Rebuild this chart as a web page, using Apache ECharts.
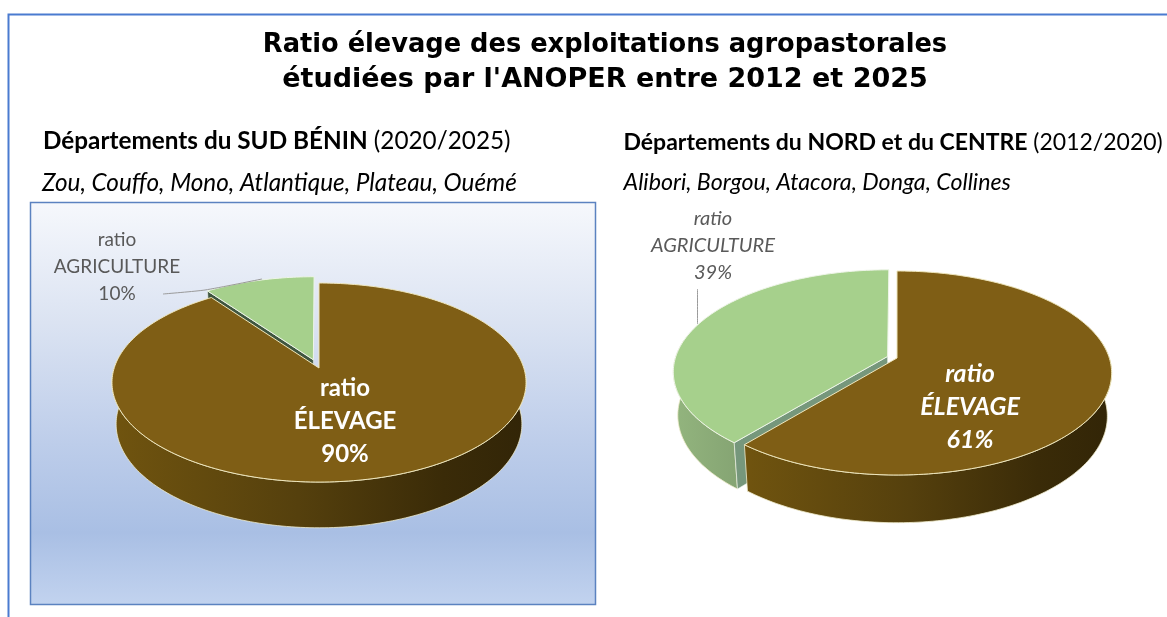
<!DOCTYPE html>
<html>
<head>
<meta charset="utf-8">
<title>Ratio élevage ANOPER</title>
<script src="https://cdn.jsdelivr.net/npm/echarts@6/dist/echarts.min.js"></script>
<style>
  html, body { margin: 0; padding: 0; background: #fff; }
  #chart { width: 1167px; height: 617px; }
</style>
</head>
<body>
<div id="chart"></div>
<script>
const categories = ['ratio ÉLEVAGE', 'ratio AGRICULTURE']
const sudValues = [90, 10]
const nordValues = [61, 39]

const titleLines = ['Ratio élevage des exploitations agropastorales', "étudiées par l'ANOPER entre 2012 et 2025"]
const sudHeading = ['Départements du SUD BÉNIN', ' (2020/2025)']
const sudPlaces = 'Zou, Couffo, Mono, Atlantique, Plateau, Ouémé'
const nordHeading = ['Départements du NORD et du CENTRE', ' (2012/2020)']
const nordPlaces = 'Alibori, Borgou, Atacora, Donga, Collines'

const FONT = 'Lato, "Noto Sans", sans-serif'
const BROWN = '#7f5e15'
const GREEN = '#a6d08c'

// perspective disc : cx/cy = centre of the pie, k = how much the near side grows
const sudPie = {
  cx: 319, cy: 368, A: 204.8, B: 97.4, k: 0.146, depth: 41, shrink: 0.98, explode: 0.09,
  cutColor: '#3f5640', italic: false,
  mainLabel: [345, 421], mainSize: 24, sideLabel: [117, 267], sideSize: 19,
  leader: [[163, 294], [205, 290], [262, 279]]
}
const nordPie = {
  cx: 897, cy: 358, A: 212.3, B: 99.8, k: 0.147, depth: 42.7, shrink: 0.98, explode: 0.047,
  cutColor: '#76977c', italic: true,
  mainLabel: [970, 407], mainSize: 25, sideLabel: [713, 246], sideSize: 20,
  leader: [[697.5, 289], [697.5, 324]]
}

function project(pie, t, r, off, bottom) {
  const u = r * Math.sin(t) + off[0]
  const v = -r * Math.cos(t) + off[1]
  const w = 1 - pie.k * v
  const s = bottom ? pie.shrink : 1
  return [
    pie.cx + s * pie.A * u / w,
    pie.cy + s * pie.B * v / w + (bottom ? pie.depth / w : 0)
  ]
}

function arc(pie, a0, a1, off, bottom) {
  const pts = []
  const n = Math.max(2, Math.ceil((a1 - a0) / 0.02))
  for (let i = 0; i <= n; i++) {
    pts.push(project(pie, a0 + (a1 - a0) * i / n, 1, off, bottom))
  }
  return pts
}

function wallGradient(isGreen) {
  const stops = isGreen
    ? [[0, '#93b57e'], [1, '#85a473']]
    : [[0, '#70540f'], [0.45, '#55400d'], [0.8, '#3a2b08'], [1, '#322507']]
  return new echarts.graphic.LinearGradient(0, 0, 1, 0, stops.map(s => ({ offset: s[0], color: s[1] })))
}

function pieSeries(pie, values) {
  const total = values.reduce((a, b) => a + b, 0)
  return {
    type: 'custom',
    coordinateSystem: 'none',
    animation: false,
    silent: true,
    data: values,
    renderItem(params, api) {
      const i = params.dataIndex
      const value = api.value(0)
      const before = values.slice(0, i).reduce((a, b) => a + b, 0)
      const a0 = before / total * Math.PI * 2
      const a1 = a0 + value / total * Math.PI * 2
      const isGreen = i === 1
      const mid = (a0 + a1) / 2
      const off = isGreen ? [pie.explode * Math.sin(mid), -pie.explode * Math.cos(mid)] : [0, 0]
      const base = isGreen ? 0 : 10
      const children = []

      // front wall, only the part turned towards the viewer
      const w0 = Math.max(a0, 1.4)
      const w1 = Math.min(a1, 4.88)
      if (w1 > w0) {
        const wall = arc(pie, w0, w1, off, false).concat(arc(pie, w0, w1, off, true).reverse())
        children.push({
          type: 'polygon', z2: base,
          shape: { points: wall },
          style: { fill: wallGradient(isGreen), stroke: 'rgba(240,236,205,0.8)', lineWidth: 1 }
        })
      }
      // cut face of the pulled out slice
      if (isGreen) {
        children.push({
          type: 'polygon', z2: base + 1,
          shape: { points: [
            project(pie, a0, 0, off, false), project(pie, a0, 1, off, false),
            project(pie, a0, 1, off, true), project(pie, a0, 0, off, true)
          ] },
          style: { fill: pie.cutColor, stroke: '#f4f8f0', lineWidth: 0.6 }
        })
      }
      // top face
      children.push({
        type: 'polygon', z2: base + 2,
        shape: { points: [project(pie, a0, 0, off, false)].concat(arc(pie, a0, a1, off, false)) },
        style: isGreen
          ? { fill: GREEN, stroke: '#eef5e8', lineWidth: 1 }
          : { fill: BROWN, stroke: '#efe7bd', lineWidth: 1 }
      })

      const words = categories[i].split(' ')
      const label = words.join('\n') + '\n' + value + '%'
      if (isGreen) {
        children.push({
          type: 'polyline', z2: 30,
          shape: { points: pie.leader, smooth: 0.2 },
          style: { fill: null, stroke: '#9a9a9a', lineWidth: 1 }
        })
        children.push({
          type: 'text', z2: 31, x: pie.sideLabel[0], y: pie.sideLabel[1],
          style: {
            text: label, fill: '#595959', align: 'center', verticalAlign: 'middle',
            fontFamily: FONT, fontSize: pie.sideSize, lineHeight: 27,
            fontStyle: pie.italic ? 'italic' : 'normal'
          }
        })
      } else {
        children.push({
          type: 'text', z2: 31, x: pie.mainLabel[0], y: pie.mainLabel[1],
          style: {
            text: label, fill: '#ffffff', align: 'center', verticalAlign: 'middle',
            fontFamily: FONT, fontSize: pie.mainSize, fontWeight: 'bold', lineHeight: 33,
            fontStyle: pie.italic ? 'italic' : 'normal'
          }
        })
      }
      return { type: 'group', children }
    }
  }
}

function heading(x, y, parts, size) {
  return {
    type: 'text', x, y,
    style: {
      text: '{b|' + parts[0] + '}{r|' + parts[1] + '}',
      verticalAlign: 'middle',
      rich: {
        b: { fontFamily: FONT, fontSize: size, fontWeight: 'bold', fill: '#000' },
        r: { fontFamily: FONT, fontSize: size, fill: '#000' }
      }
    }
  }
}

function places(x, y, text, size) {
  return {
    type: 'text', x, y,
    style: { text, verticalAlign: 'middle', fontFamily: FONT, fontSize: size, fontStyle: 'italic', fill: '#000' }
  }
}

function titleLine(y, text, size) {
  return {
    type: 'text', x: 605, y,
    style: {
      text, align: 'center', verticalAlign: 'middle', fill: '#000',
      fontFamily: '"DejaVu Sans"', fontWeight: 'bold', fontSize: size
    }
  }
}

const chart = echarts.init(document.getElementById('chart'), null, { renderer: 'canvas' })
chart.setOption({
  backgroundColor: '#fff',
  animation: false,
  graphic: [
    {
      type: 'rect',
      shape: { x: 8.5, y: 14.5, width: 1300, height: 800 },
      style: { fill: '#fff', stroke: '#4a7bd0', lineWidth: 2 }
    },
    {
      type: 'rect',
      shape: { x: 30.5, y: 202.5, width: 565, height: 402 },
      style: {
        stroke: '#5b82c0', lineWidth: 1.5,
        fill: new echarts.graphic.LinearGradient(0, 0, 0, 1, [
          { offset: 0, color: '#f6f8fc' },
          { offset: 0.3, color: '#dbe3f2' },
          { offset: 0.6, color: '#bdcdea' },
          { offset: 0.82, color: '#a9bfe4' },
          { offset: 1, color: '#c2d3ef' }
        ])
      }
    },
    titleLine(45, titleLines[0], 25.7),
    titleLine(80, titleLines[1], 27),
    heading(43, 141, sudHeading, 24.3),
    places(42, 183, sudPlaces, 24.3),
    heading(623.5, 143, nordHeading, 23),
    places(623.5, 183, nordPlaces, 23.2)
  ],
  series: [pieSeries(sudPie, sudValues), pieSeries(nordPie, nordValues)]
})
window.addEventListener('resize', chart.resize)
</script>
</body>
</html>
